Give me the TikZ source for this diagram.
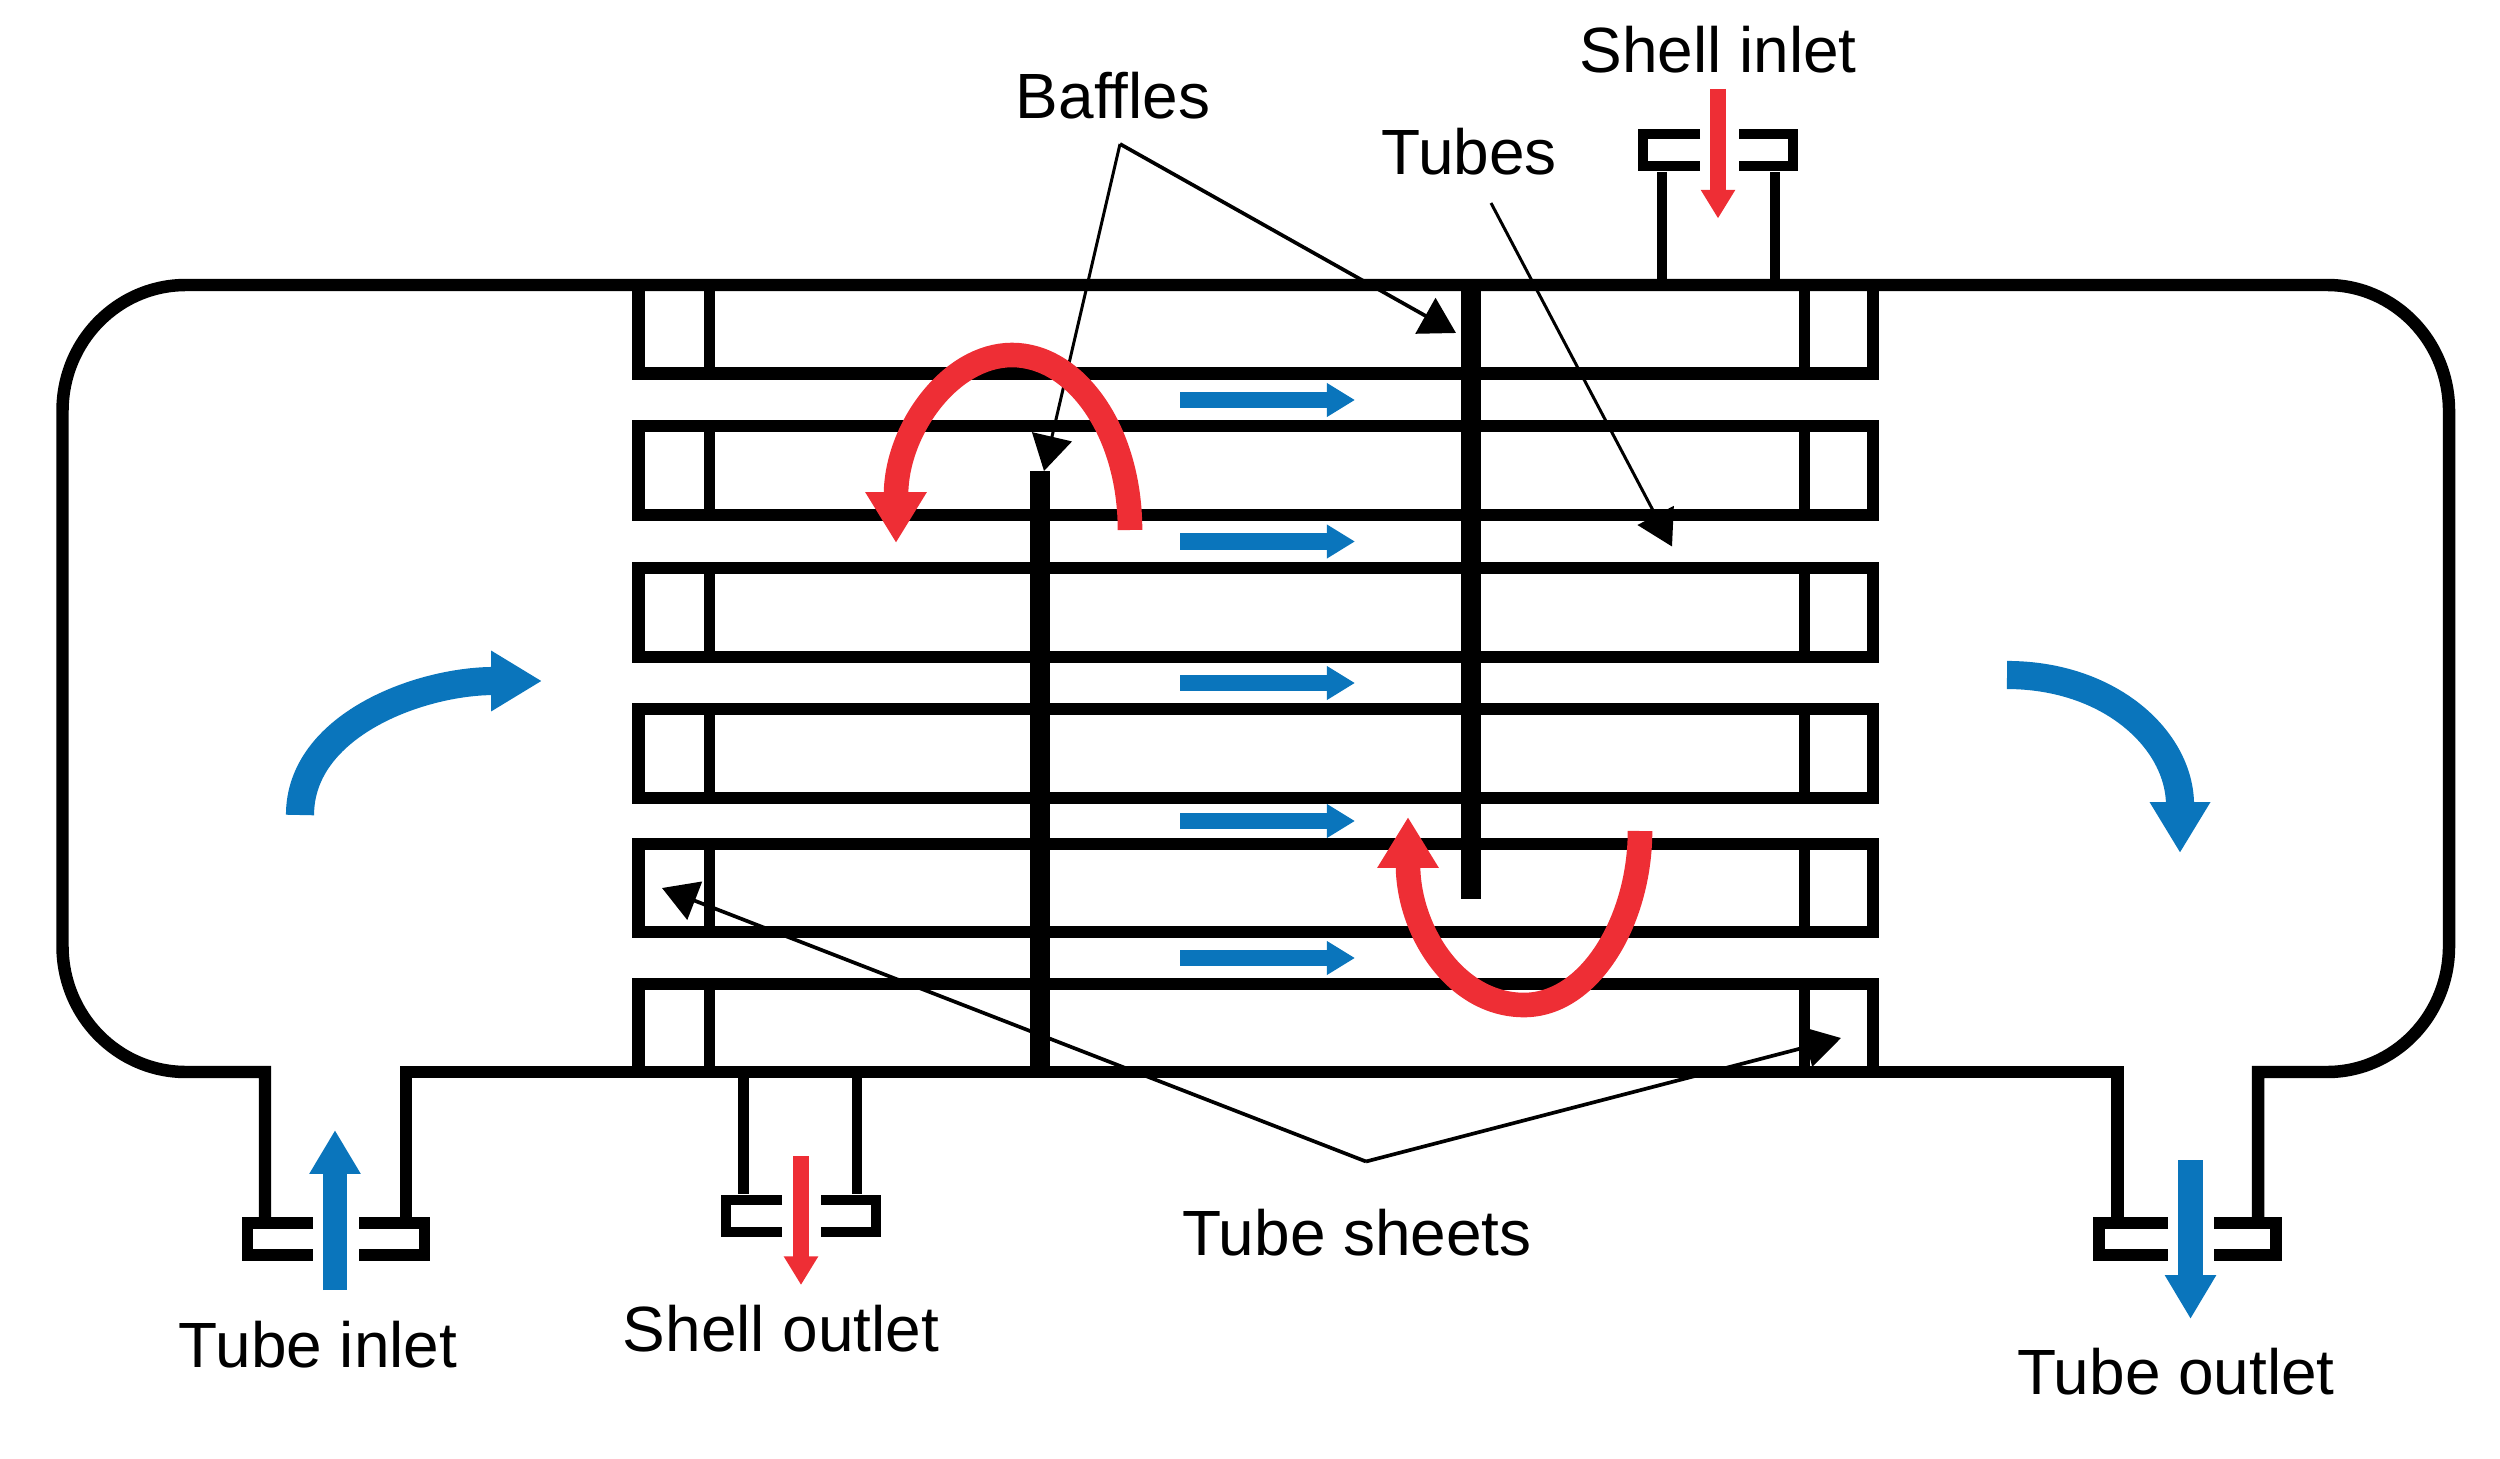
\documentclass[tikz,border=0pt]{standalone}
\usepackage{fontspec}
\setmainfont{Liberation Sans}
\usetikzlibrary{arrows.meta}
\definecolor{flowblue}{HTML}{0A75BC}
\definecolor{flowred}{HTML}{EE2E35}
\tikzset{
  x=0.02cm, y=-0.02cm,
  shellline/.style={draw=black, line width=7.1pt, line join=miter},
  sheetline/.style={draw=black, line width=6.2pt},
  flangeA/.style={draw=black, line width=6.8pt, line join=miter},
  flangeB/.style={draw=black, line width=6.2pt, line join=miter},
  baffle/.style={draw=black, line width=11.4pt},
  leader/.style={draw=black, line width=2.1pt, -{Triangle[length=20pt,width=23pt]}},
  leaderthin/.style={draw=black, line width=1.7pt, -{Triangle[length=20pt,width=23pt]}},
  smallblue/.style={draw=flowblue, line width=9.6pt, -{Triangle[length=16pt,width=18.2pt]}},
  portblue/.style={draw=flowblue, line width=14.2pt, -{Triangle[length=25pt,width=27.5pt]}},
  portred/.style={draw=flowred, line width=9.1pt, -{Triangle[length=16.3pt,width=18.5pt]}},
  bigblue/.style={draw=flowblue, line width=16pt, -{Triangle[length=29pt,width=32.5pt]}},
  bigred/.style={draw=flowred, line width=14pt, -{Triangle[length=29pt,width=33pt]}},
  lbl/.style={anchor=base, inner sep=0pt, font=\fontsize{36.4pt}{40pt}\selectfont}
}
\begin{document}
\begin{tikzpicture}
\useasboundingbox (0,0) rectangle (2500,1459);

% tube rows
\foreach \ya/\yb in {285/373.5,426/515,568/657,709/798,844/932,984/1072}{
  \draw[shellline] (638.5,\ya) rectangle (1873,\yb);
  \draw[sheetline] (709.5,\ya) -- (709.5,\yb);
  \draw[sheetline] (1804.5,\ya) -- (1804.5,\yb);
}

% shell and tube-side nozzles
\draw[shellline] (265,1217) -- (265,1072) -- (186,1072)
  .. controls (118,1072) and (62.5,1016) .. (62.5,946) -- (62.5,411)
  .. controls (62.5,341) and (118,285) .. (186,285) -- (2327,285)
  .. controls (2394,285) and (2449,341) .. (2449,411) -- (2449,946)
  .. controls (2449,1016) and (2394,1072) .. (2327,1072)
  -- (2258,1072) -- (2258,1217);
\draw[shellline] (406,1217) -- (406,1072) -- (2117.5,1072) -- (2117.5,1217);

% tube-side flanges
\draw[flangeA] (313,1223) -- (247.5,1223) -- (247.5,1255) -- (313,1255);
\draw[flangeA] (359,1223) -- (424.5,1223) -- (424.5,1255) -- (359,1255);
\draw[flangeA] (2168,1223) -- (2099,1223) -- (2099,1255) -- (2168,1255);
\draw[flangeA] (2214,1223) -- (2276,1223) -- (2276,1255) -- (2214,1255);

% shell-side nozzles
\draw[flangeB] (1662,172) -- (1662,285);
\draw[flangeB] (1775,172) -- (1775,285);
\draw[flangeB] (1700,134) -- (1643,134) -- (1643,166) -- (1700,166);
\draw[flangeB] (1739,134) -- (1793,134) -- (1793,166) -- (1739,166);
\draw[flangeB] (743.5,1072) -- (743.5,1194);
\draw[flangeB] (857,1072) -- (857,1194);
\draw[flangeB] (782,1200) -- (726,1200) -- (726,1232) -- (782,1232);
\draw[flangeB] (821,1200) -- (876,1200) -- (876,1232) -- (821,1232);

% baffles
\draw[baffle] (1040,471) -- (1040,1072);
\draw[baffle] (1471,285) -- (1471,899);

% labels
\node[lbl] (baffles) at (1113,118.5) {Baffles};
\node[lbl] (shellin) at (1718,73) {Shell inlet};
\node[lbl] (tubes) at (1469,175) {Tubes};
\node[lbl] (sheets) at (1357,1255) {Tube sheets};
\node[lbl] (shellout) at (781,1351) {Shell outlet};
\node[lbl] (tubein) at (318,1367) {Tube inlet};
\node[lbl] (tubeout) at (2176,1394) {Tube outlet};

% leaders
\coordinate (bafflefork) at (1120,144);
\coordinate (bafflehitA) at (1044,471);
\coordinate (bafflehitB) at (1456,333);
\coordinate (tubesfoot) at (1491,203);
\coordinate (tubeshit) at (1672,546.5);
\coordinate (sheetfork) at (1366,1161.5);
\coordinate (sheethitA) at (662,888);
\coordinate (sheethitB) at (1841,1038);
\draw[leaderthin] (bafflefork) -- (bafflehitA);
\draw[leader] (bafflefork) -- (bafflehitB);
\draw[leaderthin] (tubesfoot) -- (tubeshit);
\draw[leader] (sheetfork) -- (sheethitA);
\draw[leader] (sheetfork) -- (sheethitB);

% tube-side flow
\foreach \y in {400,541.5,683,821,958}{
  \draw[smallblue] (1180,\y) -- (1355,\y);
}
\draw[portblue] (335,1290) -- (335,1130);
\draw[portblue] (2190.5,1160) -- (2190.5,1319);
\draw[bigblue] (300,815) .. controls (300,725) and (420,681) .. (542,681);
\draw[bigblue] (2007,675) .. controls (2110,675) and (2180,740) .. (2180,853);

% shell-side flow
\draw[portred] (1718,89) -- (1718,218.5);
\draw[portred] (801,1156) -- (801,1285);
\draw[bigred] (1130,530) .. controls (1130,430) and (1075,355) .. (1012,355)
  .. controls (950,355) and (896,430) .. (896,543);
\draw[bigred] (1640,831) .. controls (1640,920) and (1590,1005) .. (1524,1005)
  .. controls (1455,1005) and (1408,930) .. (1408,817);
\end{tikzpicture}
\end{document}
